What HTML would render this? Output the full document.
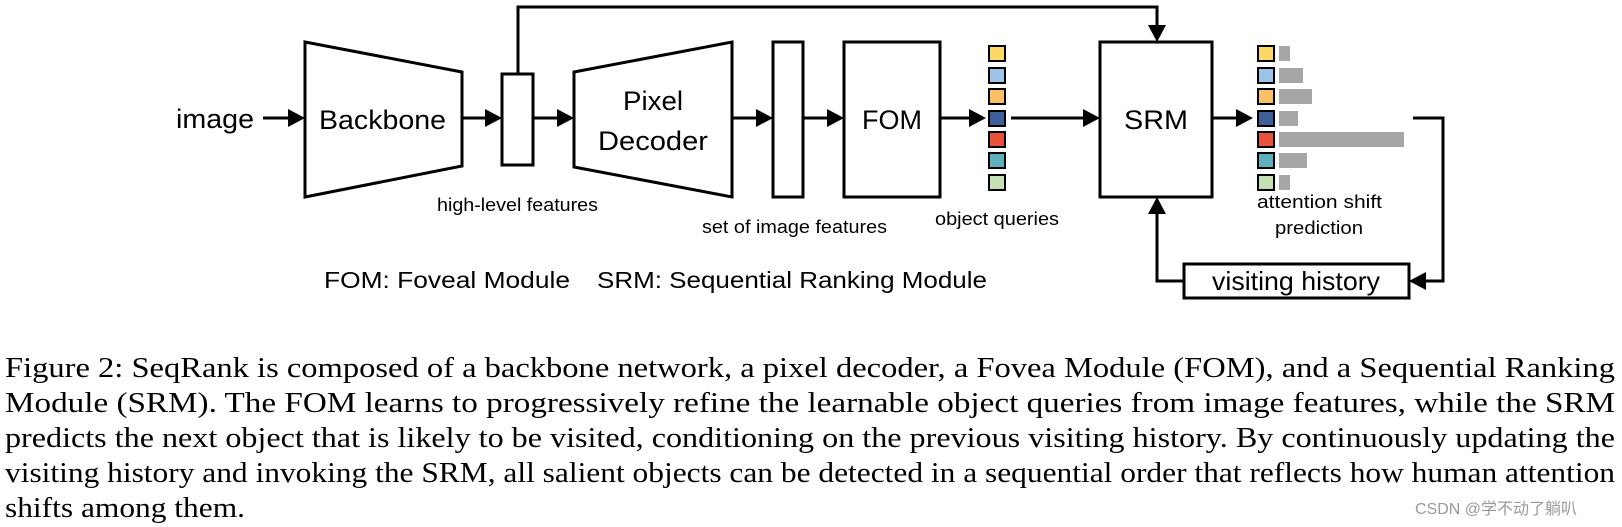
<!DOCTYPE html>
<html><head><meta charset="utf-8"><style>
html,body{margin:0;padding:0;background:#fff;}
svg{display:block;}
.s{font-family:"Liberation Sans",sans-serif;fill:#000;}
.t{font-family:"Liberation Serif",serif;fill:#000;font-size:29px;}
</style></head><body>
<svg width="1622" height="527" viewBox="0 0 1622 527" xmlns="http://www.w3.org/2000/svg">
<defs><marker id="a" markerWidth="10" markerHeight="10" refX="9" refY="5" orient="auto" markerUnits="userSpaceOnUse"><path d="M0,0 L10,5 L0,10 Z" fill="#000" transform="scale(1.5) translate(-3.3,-1.67)"/></marker></defs>
<g stroke="#000" stroke-width="3" fill="none">
<polygon points="305,42 462,72 462,166 305,197"/>
<rect x="502" y="74" width="31" height="91" fill="#fff"/>
<polygon points="574,72 732,42 732,197 574,167"/>
<rect x="773" y="42" width="30" height="155"/>
<rect x="844" y="42" width="96" height="155"/>
<rect x="1100" y="42" width="112" height="155"/>
<rect x="1184" y="264" width="225" height="34"/>
<polyline points="518,74 518,7 1157,7 1157,28"/>
<line x1="263" y1="118" x2="290" y2="118"/>
<line x1="462" y1="118" x2="488" y2="118"/>
<line x1="533" y1="118" x2="560" y2="118"/>
<line x1="732" y1="118" x2="759" y2="118"/>
<line x1="803" y1="118" x2="830" y2="118"/>
<line x1="940" y1="118" x2="972" y2="118"/>
<line x1="1011" y1="118" x2="1086" y2="118"/>
<line x1="1212" y1="118" x2="1238" y2="118"/>
<polyline points="1413,118 1443,118 1443,281 1424,281"/>
<polyline points="1184,281 1157,281 1157,212"/>
</g>
<g fill="#000">
<polygon points="305,118 288,109 288,127"/>
<polygon points="502,118 485,109 485,127"/>
<polygon points="574,118 557,109 557,127"/>
<polygon points="773,118 756,109 756,127"/>
<polygon points="844,118 827,109 827,127"/>
<polygon points="986,118 969,109 969,127"/>
<polygon points="1100,118 1083,109 1083,127"/>
<polygon points="1253,118 1236,109 1236,127"/>
<polygon points="1409,281 1426,272 1426,290"/>
<polygon points="1157,197 1148,214 1166,214"/>
<polygon points="1157,42 1148,25 1166,25"/>
</g>
<g stroke="#000" stroke-width="2">
<rect x="989" y="46" width="16" height="15" fill="#fcd966"/>
<rect x="989" y="68" width="16" height="15" fill="#9dc3e6"/>
<rect x="989" y="89" width="16" height="15" fill="#fbbf66"/>
<rect x="989" y="111" width="16" height="15" fill="#3f5f98"/>
<rect x="989" y="132" width="16" height="15" fill="#e8523a"/>
<rect x="989" y="153" width="16" height="15" fill="#5fb0bd"/>
<rect x="989" y="175" width="16" height="15" fill="#c5e0b4"/>
<rect x="1258" y="46" width="16" height="15" fill="#fcd966"/>
<rect x="1258" y="68" width="16" height="15" fill="#9dc3e6"/>
<rect x="1258" y="89" width="16" height="15" fill="#fbbf66"/>
<rect x="1258" y="111" width="16" height="15" fill="#3f5f98"/>
<rect x="1258" y="132" width="16" height="15" fill="#e8523a"/>
<rect x="1258" y="153" width="16" height="15" fill="#5fb0bd"/>
<rect x="1258" y="175" width="16" height="15" fill="#c5e0b4"/>
</g>
<g fill="#a6a6a6">
<rect x="1279" y="46" width="11" height="15"/>
<rect x="1279" y="68" width="24" height="15"/>
<rect x="1279" y="89" width="33" height="15"/>
<rect x="1279" y="111" width="19" height="15"/>
<rect x="1279" y="132" width="125" height="15"/>
<rect x="1279" y="153" width="28" height="15"/>
<rect x="1279" y="175" width="11" height="15"/>
</g>
<g class="s">
<text x="176" y="128" font-size="27" textLength="78" lengthAdjust="spacingAndGlyphs">image</text>
<text x="319" y="129" font-size="27" textLength="127" lengthAdjust="spacingAndGlyphs">Backbone</text>
<text x="623" y="110" font-size="27" textLength="60" lengthAdjust="spacingAndGlyphs">Pixel</text>
<text x="598" y="150" font-size="27" textLength="110" lengthAdjust="spacingAndGlyphs">Decoder</text>
<text x="862" y="129" font-size="27" textLength="60" lengthAdjust="spacingAndGlyphs">FOM</text>
<text x="1124" y="129" font-size="27" textLength="64" lengthAdjust="spacingAndGlyphs">SRM</text>
<text x="437" y="211" font-size="18" textLength="161" lengthAdjust="spacingAndGlyphs">high-level features</text>
<text x="702" y="233" font-size="18" textLength="185" lengthAdjust="spacingAndGlyphs">set of image features</text>
<text x="935" y="225" font-size="18" textLength="124" lengthAdjust="spacingAndGlyphs">object queries</text>
<text x="1257" y="208" font-size="18" textLength="125" lengthAdjust="spacingAndGlyphs">attention shift</text>
<text x="1275" y="234" font-size="18" textLength="88" lengthAdjust="spacingAndGlyphs">prediction</text>
<text x="1212" y="290" font-size="26" textLength="168" lengthAdjust="spacingAndGlyphs">visiting history</text>
<text x="324" y="288" font-size="23" textLength="246" lengthAdjust="spacingAndGlyphs">FOM: Foveal Module</text>
<text x="597" y="288" font-size="23" textLength="390" lengthAdjust="spacingAndGlyphs">SRM: Sequential Ranking Module</text>
</g>
<g class="t">
<text x="5" y="377" textLength="1610" lengthAdjust="spacingAndGlyphs">Figure 2: SeqRank is composed of a backbone network, a pixel decoder, a Fovea Module (FOM), and a Sequential Ranking</text>
<text x="5" y="412" textLength="1610" lengthAdjust="spacingAndGlyphs">Module (SRM). The FOM learns to progressively refine the learnable object queries from image features, while the SRM</text>
<text x="5" y="447" textLength="1610" lengthAdjust="spacingAndGlyphs">predicts the next object that is likely to be visited, conditioning on the previous visiting history. By continuously updating the</text>
<text x="5" y="482" textLength="1610" lengthAdjust="spacingAndGlyphs">visiting history and invoking the SRM, all salient objects can be detected in a sequential order that reflects how human attention</text>
<text x="5" y="517" textLength="240" lengthAdjust="spacingAndGlyphs">shifts among them.</text>
</g>
<text x="1415" y="514" font-family="Liberation Sans, 'Noto Sans CJK SC', sans-serif" font-size="16" fill="#9a9a9a">CSDN @学不动了躺叭</text>
</svg>
</body></html>
